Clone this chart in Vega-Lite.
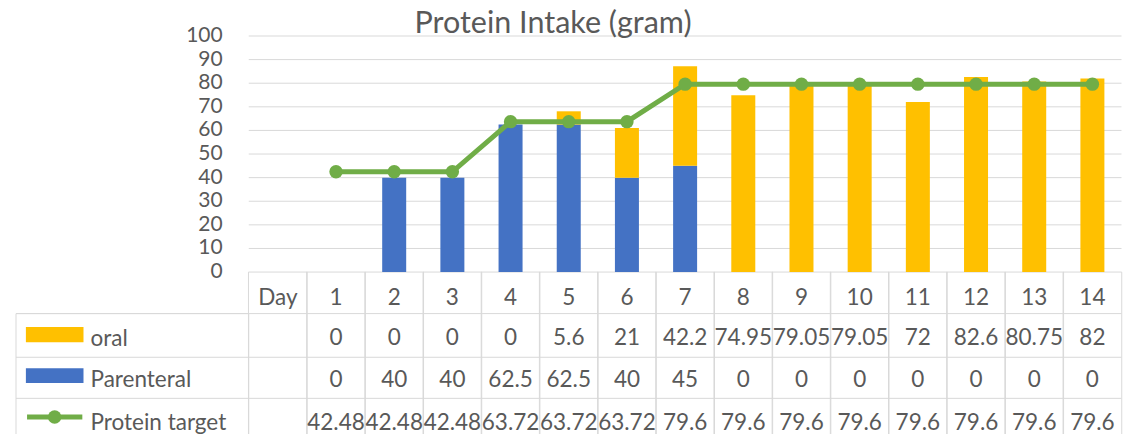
{
  "$schema": "https://vega.github.io/schema/vega-lite/v6.json",
  "width": 1112,
  "height": 398,
  "autosize": "none",
  "padding": {"left": 11, "top": 36, "right": 0, "bottom": 0},
  "background": "white",
  "config": {
    "view": {"stroke": null},
    "font": "Lato",
    "text": {"font": "Lato", "fontSize": 22.5, "fill": "#595959", "align": "center", "baseline": "alphabetic"}
  },
  "title": {"text": "Protein Intake (gram)", "font": "Lato", "fontSize": 30.5, "fontWeight": "normal", "color": "#595959", "anchor": "middle", "dx": -14, "dy": 14, "offset": 0},
  "datasets": {
    "days": [
      {"day": 0, "label": "Day"},
      {"day": 1, "label": "1", "oral": 0, "parenteral": 0, "target": 42.48},
      {"day": 2, "label": "2", "oral": 0, "parenteral": 40, "target": 42.48},
      {"day": 3, "label": "3", "oral": 0, "parenteral": 40, "target": 42.48},
      {"day": 4, "label": "4", "oral": 0, "parenteral": 62.5, "target": 63.72},
      {"day": 5, "label": "5", "oral": 5.6, "parenteral": 62.5, "target": 63.72},
      {"day": 6, "label": "6", "oral": 21, "parenteral": 40, "target": 63.72},
      {"day": 7, "label": "7", "oral": 42.2, "parenteral": 45, "target": 79.6},
      {"day": 8, "label": "8", "oral": 74.95, "parenteral": 0, "target": 79.6},
      {"day": 9, "label": "9", "oral": 79.05, "parenteral": 0, "target": 79.6},
      {"day": 10, "label": "10", "oral": 79.05, "parenteral": 0, "target": 79.6},
      {"day": 11, "label": "11", "oral": 72, "parenteral": 0, "target": 79.6},
      {"day": 12, "label": "12", "oral": 82.6, "parenteral": 0, "target": 79.6},
      {"day": 13, "label": "13", "oral": 80.75, "parenteral": 0, "target": 79.6},
      {"day": 14, "label": "14", "oral": 82, "parenteral": 0, "target": 79.6}
    ],
    "ticks": [{"g": 0}, {"g": 10}, {"g": 20}, {"g": 30}, {"g": 40}, {"g": 50}, {"g": 60}, {"g": 70}, {"g": 80}, {"g": 90}, {"g": 100}],
    "one": [{"k": 1}]
  },
  "data": {"name": "days"},
  "layer": [
    {
      "data": {"name": "ticks"},
      "transform": [{"filter": "datum.g > 0"}],
      "mark": {"type": "rule", "stroke": "#D9D9D9", "strokeWidth": 1},
      "encoding": {
        "x": {"datum": -0.5, "type": "quantitative", "scale": {"domain": [-4.5, 14.44], "nice": false, "zero": false}, "axis": null},
        "x2": {"datum": 14.5},
        "y": {"field": "g", "type": "quantitative", "scale": {"domain": [-68.6, 100], "nice": false, "zero": false}, "axis": null}
      }
    },
    {
      "data": {"name": "ticks"},
      "mark": {"type": "text", "align": "right", "baseline": "middle", "dx": -26, "fontSize": 21},
      "encoding": {
        "x": {"datum": -0.5, "type": "quantitative", "axis": null},
        "y": {"field": "g", "type": "quantitative", "axis": null},
        "text": {"field": "g", "type": "nominal"}
      }
    },
    {
      "mark": {"type": "bar", "width": 58.7, "fillOpacity": 0, "stroke": "#D9D9D9", "strokeWidth": 1, "orient": "vertical"},
      "encoding": {
        "x": {"field": "day", "type": "quantitative", "axis": null},
        "y": {"datum": 0, "type": "quantitative", "axis": null},
        "y2": {"datum": -72}
      }
    },
    {
      "data": {"name": "one"},
      "mark": {"type": "bar", "fillOpacity": 0, "stroke": "#D9D9D9", "strokeWidth": 1},
      "encoding": {
        "x": {"datum": -4.5, "type": "quantitative", "axis": null},
        "x2": {"datum": -0.5},
        "y": {"datum": -17.6, "type": "quantitative", "axis": null},
        "y2": {"datum": -72}
      }
    },
    {
      "data": {"name": "one"},
      "mark": {"type": "rule", "stroke": "#D9D9D9", "strokeWidth": 1},
      "encoding": {
        "x": {"datum": -4.5, "type": "quantitative", "axis": null},
        "x2": {"datum": 14.5},
        "y": {"datum": -17.6, "type": "quantitative", "axis": null}
      }
    },
    {
      "data": {"name": "one"},
      "mark": {"type": "rule", "stroke": "#D9D9D9", "strokeWidth": 1},
      "encoding": {
        "x": {"datum": -4.5, "type": "quantitative", "axis": null},
        "x2": {"datum": 14.5},
        "y": {"datum": -36.1, "type": "quantitative", "axis": null}
      }
    },
    {
      "data": {"name": "one"},
      "mark": {"type": "rule", "stroke": "#D9D9D9", "strokeWidth": 1},
      "encoding": {
        "x": {"datum": -4.5, "type": "quantitative", "axis": null},
        "x2": {"datum": 14.5},
        "y": {"datum": -53.5, "type": "quantitative", "axis": null}
      }
    },
    {
      "transform": [
        {"filter": "datum.day > 0"},
        {"fold": ["parenteral", "oral"], "as": ["series", "value"]},
        {"stack": "value", "groupby": ["day"], "sort": [{"field": "series", "order": "descending"}], "as": ["v0", "v1"]}
      ],
      "mark": {"type": "bar", "width": 24, "orient": "vertical"},
      "encoding": {
        "x": {"field": "day", "type": "quantitative", "axis": null},
        "y": {"field": "v0", "type": "quantitative", "axis": null},
        "y2": {"field": "v1"},
        "color": {"field": "series", "type": "nominal", "scale": {"domain": ["oral", "parenteral"], "range": ["#FFC000", "#4472C4"]}, "legend": null}
      }
    },
    {
      "transform": [{"filter": "datum.day > 0"}],
      "mark": {"type": "line", "color": "#70AD47", "strokeWidth": 5},
      "encoding": {
        "x": {"field": "day", "type": "quantitative", "axis": null},
        "y": {"field": "target", "type": "quantitative", "axis": null}
      }
    },
    {
      "transform": [{"filter": "datum.day > 0"}],
      "mark": {"type": "point", "filled": true, "color": "#70AD47", "size": 180, "opacity": 1},
      "encoding": {
        "x": {"field": "day", "type": "quantitative", "axis": null},
        "y": {"field": "target", "type": "quantitative", "axis": null}
      }
    },
    {
      "mark": {"type": "text"},
      "encoding": {
        "x": {"field": "day", "type": "quantitative", "axis": null},
        "y": {"datum": -14.0, "type": "quantitative", "axis": null},
        "text": {"field": "label", "type": "nominal"}
      }
    },
    {
      "transform": [{"filter": "datum.day > 0"}],
      "mark": {"type": "text"},
      "encoding": {
        "x": {"field": "day", "type": "quantitative", "axis": null},
        "y": {"datum": -30.9, "type": "quantitative", "axis": null},
        "text": {"field": "oral", "type": "nominal"}
      }
    },
    {
      "transform": [{"filter": "datum.day > 0"}],
      "mark": {"type": "text"},
      "encoding": {
        "x": {"field": "day", "type": "quantitative", "axis": null},
        "y": {"datum": -48.9, "type": "quantitative", "axis": null},
        "text": {"field": "parenteral", "type": "nominal"}
      }
    },
    {
      "transform": [{"filter": "datum.day > 0"}],
      "mark": {"type": "text"},
      "encoding": {
        "x": {"field": "day", "type": "quantitative", "axis": null},
        "y": {"datum": -66.7, "type": "quantitative", "axis": null},
        "text": {"field": "target", "type": "nominal"}
      }
    },
    {
      "data": {"name": "one"},
      "mark": {"type": "bar", "color": "#FFC000"},
      "encoding": {
        "x": {"datum": -4.33, "type": "quantitative", "axis": null},
        "x2": {"datum": -3.34},
        "y": {"datum": -23.3, "type": "quantitative", "axis": null},
        "y2": {"datum": -29.7}
      }
    },
    {
      "data": {"name": "one"},
      "mark": {"type": "bar", "color": "#4472C4"},
      "encoding": {
        "x": {"datum": -4.33, "type": "quantitative", "axis": null},
        "x2": {"datum": -3.34},
        "y": {"datum": -40.7, "type": "quantitative", "axis": null},
        "y2": {"datum": -47.0}
      }
    },
    {
      "data": {"name": "one"},
      "mark": {"type": "rule", "color": "#70AD47", "strokeWidth": 5},
      "encoding": {
        "x": {"datum": -4.31, "type": "quantitative", "axis": null},
        "x2": {"datum": -3.36},
        "y": {"datum": -61.4, "type": "quantitative", "axis": null}
      }
    },
    {
      "data": {"name": "one"},
      "mark": {"type": "point", "filled": true, "color": "#70AD47", "size": 180, "opacity": 1},
      "encoding": {
        "x": {"datum": -3.836, "type": "quantitative", "axis": null},
        "y": {"datum": -61.4, "type": "quantitative", "axis": null}
      }
    },
    {
      "data": {"name": "one"},
      "mark": {"type": "text", "text": "oral", "align": "left"},
      "encoding": {
        "x": {"datum": -3.22, "type": "quantitative", "axis": null},
        "y": {"datum": -31.4, "type": "quantitative", "axis": null}
      }
    },
    {
      "data": {"name": "one"},
      "mark": {"type": "text", "text": "Parenteral", "align": "left"},
      "encoding": {
        "x": {"datum": -3.22, "type": "quantitative", "axis": null},
        "y": {"datum": -48.9, "type": "quantitative", "axis": null}
      }
    },
    {
      "data": {"name": "one"},
      "mark": {"type": "text", "text": "Protein target", "align": "left"},
      "encoding": {
        "x": {"datum": -3.22, "type": "quantitative", "axis": null},
        "y": {"datum": -66.7, "type": "quantitative", "axis": null}
      }
    }
  ]
}
